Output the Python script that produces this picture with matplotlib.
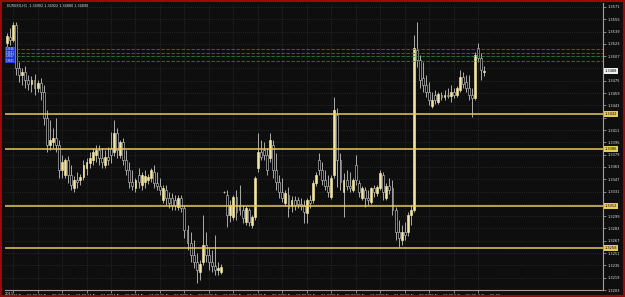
import matplotlib
matplotlib.use("Agg")
import matplotlib.pyplot as plt
from matplotlib.patches import Rectangle
import numpy as np

# ---------------- data (EURUSD H1, 22 Nov 2011 23:00 -> 1 Dec 2011 11:00) ----------------
opens = [1.3524, 1.3532, 1.3528, 1.3547, 1.3492, 1.3482, 1.3486, 1.3476, 1.3471, 1.3476,
         1.3466, 1.3472, 1.3460, 1.3427, 1.3391, 1.3395, 1.3401, 1.3391, 1.3359, 1.3352,
         1.3372, 1.3352, 1.3336, 1.3346, 1.3346, 1.3350, 1.3362, 1.3368, 1.3372, 1.3378,
         1.3385, 1.3375, 1.3365, 1.3376, 1.3388, 1.3382, 1.3407, 1.3378, 1.3395, 1.3372,
         1.3359, 1.3343, 1.3336, 1.3352, 1.3339, 1.3343, 1.3346, 1.3349, 1.3356, 1.3342,
         1.3338, 1.3320, 1.3333, 1.3323, 1.3323, 1.3320, 1.3311, 1.3323, 1.3310, 1.3281,
         1.3264, 1.3248, 1.3239, 1.3226, 1.3239, 1.3261, 1.3248, 1.3239, 1.3234, 1.3229,
         1.3226, 1.3330, 1.3326, 1.3300, 1.3298, 1.3324, 1.3313, 1.3307, 1.3291, 1.3307,
         1.3287, 1.3298, 1.3362, 1.3382, 1.3385, 1.3378, 1.3375, 1.3391, 1.3359, 1.3343,
         1.3330, 1.3316, 1.3326, 1.3312, 1.3320, 1.3320, 1.3315, 1.3312, 1.3303, 1.3320,
         1.3320, 1.3342, 1.3372, 1.3359, 1.3346, 1.3338, 1.3324, 1.3352, 1.3430, 1.3372,
         1.3330, 1.3346, 1.3338, 1.3333, 1.3365, 1.3342, 1.3323, 1.3333, 1.3323, 1.3317,
         1.3336, 1.3329, 1.3336, 1.3352, 1.3323, 1.3338, 1.3336, 1.3307, 1.3278, 1.3268,
         1.3278, 1.3278, 1.3300, 1.3307, 1.3515, 1.3502, 1.3479, 1.3469, 1.3460, 1.3442,
         1.3456, 1.3447, 1.3456, 1.3454, 1.3456, 1.3455, 1.3460, 1.3456, 1.3463, 1.3480,
         1.3473, 1.3466, 1.3456, 1.3453, 1.3518, 1.3505, 1.3486]
highs = [1.3537, 1.3544, 1.3551, 1.3551, 1.3499, 1.3492, 1.3494, 1.3482, 1.3481, 1.3484,
         1.3476, 1.3479, 1.3469, 1.3437, 1.3424, 1.3414, 1.3427, 1.3398, 1.3378, 1.3375,
         1.3377, 1.3365, 1.3351, 1.3356, 1.3354, 1.3372, 1.3375, 1.3382, 1.3388, 1.3391,
         1.3391, 1.3388, 1.3385, 1.3389, 1.3408, 1.3424, 1.3414, 1.3398, 1.3401, 1.3385,
         1.3369, 1.3359, 1.3349, 1.3362, 1.3356, 1.3359, 1.3354, 1.3362, 1.3365, 1.3356,
         1.3349, 1.3339, 1.3339, 1.3330, 1.3329, 1.3326, 1.3326, 1.3326, 1.3313, 1.3287,
         1.3278, 1.3268, 1.3251, 1.3242, 1.3300, 1.3278, 1.3258, 1.3255, 1.3274, 1.3239,
         1.3237, 1.3332, 1.3333, 1.3320, 1.3326, 1.3333, 1.3339, 1.3313, 1.3312, 1.3310,
         1.3300, 1.3351, 1.3407, 1.3398, 1.3395, 1.3388, 1.3407, 1.3398, 1.3381, 1.3352,
         1.3349, 1.3333, 1.3337, 1.3325, 1.3325, 1.3324, 1.3323, 1.3320, 1.3323, 1.3326,
         1.3346, 1.3356, 1.3381, 1.3369, 1.3359, 1.3352, 1.3352, 1.3454, 1.3440, 1.3381,
         1.3355, 1.3359, 1.3356, 1.3349, 1.3378, 1.3346, 1.3338, 1.3337, 1.3333, 1.3337,
         1.3339, 1.3339, 1.3359, 1.3356, 1.3342, 1.3349, 1.3346, 1.3311, 1.3294, 1.3287,
         1.3291, 1.3304, 1.3313, 1.3534, 1.3551, 1.3508, 1.3499, 1.3482, 1.3473, 1.3460,
         1.3463, 1.3460, 1.3460, 1.3463, 1.3466, 1.3469, 1.3466, 1.3468, 1.3489, 1.3486,
         1.3482, 1.3482, 1.3466, 1.3512, 1.3524, 1.3511, 1.3494]
lows = [1.3515, 1.3521, 1.3525, 1.3482, 1.3473, 1.3469, 1.3466, 1.3463, 1.3460, 1.3456,
        1.3460, 1.3450, 1.3417, 1.3382, 1.3385, 1.3388, 1.3382, 1.3349, 1.3349, 1.3349,
        1.3342, 1.3333, 1.3330, 1.3336, 1.3339, 1.3346, 1.3352, 1.3362, 1.3365, 1.3369,
        1.3365, 1.3362, 1.3362, 1.3365, 1.3368, 1.3377, 1.3375, 1.3375, 1.3365, 1.3352,
        1.3336, 1.3333, 1.3330, 1.3336, 1.3333, 1.3336, 1.3341, 1.3343, 1.3336, 1.3333,
        1.3326, 1.3316, 1.3313, 1.3310, 1.3307, 1.3307, 1.3307, 1.3304, 1.3271, 1.3255,
        1.3239, 1.3232, 1.3212, 1.3216, 1.3235, 1.3239, 1.3229, 1.3226, 1.3222, 1.3222,
        1.3224, 1.3329, 1.3285, 1.3291, 1.3294, 1.3294, 1.3300, 1.3290, 1.3287, 1.3286,
        1.3284, 1.3294, 1.3356, 1.3372, 1.3372, 1.3352, 1.3369, 1.3349, 1.3333, 1.3323,
        1.3317, 1.3312, 1.3298, 1.3304, 1.3307, 1.3310, 1.3307, 1.3290, 1.3290, 1.3310,
        1.3316, 1.3338, 1.3352, 1.3339, 1.3333, 1.3324, 1.3321, 1.3349, 1.3337, 1.3333,
        1.3298, 1.3333, 1.3330, 1.3330, 1.3339, 1.3324, 1.3320, 1.3311, 1.3313, 1.3315,
        1.3324, 1.3325, 1.3333, 1.3320, 1.3320, 1.3328, 1.3300, 1.3268, 1.3259, 1.3261,
        1.3268, 1.3273, 1.3287, 1.3304, 1.3493, 1.3466, 1.3460, 1.3454, 1.3443, 1.3440,
        1.3445, 1.3445, 1.3450, 1.3450, 1.3453, 1.3447, 1.3453, 1.3454, 1.3460, 1.3466,
        1.3460, 1.3450, 1.3428, 1.3450, 1.3499, 1.3476, 1.3481]
closes = [1.3533, 1.3528, 1.3547, 1.3492, 1.3482, 1.3486, 1.3476, 1.3471, 1.3476, 1.3466,
          1.3472, 1.3460, 1.3427, 1.3391, 1.3398, 1.3401, 1.3391, 1.3359, 1.3369, 1.3372,
          1.3352, 1.3339, 1.3346, 1.3343, 1.3350, 1.3365, 1.3369, 1.3375, 1.3382, 1.3385,
          1.3375, 1.3369, 1.3376, 1.3372, 1.3378, 1.3407, 1.3385, 1.3395, 1.3372, 1.3359,
          1.3343, 1.3338, 1.3346, 1.3343, 1.3352, 1.3351, 1.3350, 1.3359, 1.3342, 1.3338,
          1.3333, 1.3336, 1.3323, 1.3316, 1.3313, 1.3313, 1.3323, 1.3310, 1.3281, 1.3264,
          1.3248, 1.3239, 1.3229, 1.3237, 1.3261, 1.3248, 1.3239, 1.3234, 1.3229, 1.3232,
          1.3233, 1.3330, 1.3300, 1.3313, 1.3324, 1.3304, 1.3307, 1.3297, 1.3310, 1.3291,
          1.3298, 1.3349, 1.3382, 1.3376, 1.3378, 1.3359, 1.3398, 1.3359, 1.3343, 1.3330,
          1.3323, 1.3329, 1.3310, 1.3320, 1.3313, 1.3315, 1.3312, 1.3304, 1.3320, 1.3316,
          1.3342, 1.3352, 1.3359, 1.3346, 1.3338, 1.3330, 1.3349, 1.3437, 1.3372, 1.3343,
          1.3346, 1.3338, 1.3336, 1.3346, 1.3346, 1.3330, 1.3336, 1.3323, 1.3320, 1.3336,
          1.3330, 1.3337, 1.3355, 1.3330, 1.3338, 1.3333, 1.3307, 1.3278, 1.3271, 1.3278,
          1.3274, 1.3300, 1.3307, 1.3518, 1.3502, 1.3476, 1.3469, 1.3460, 1.3450, 1.3450,
          1.3450, 1.3458, 1.3454, 1.3456, 1.3455, 1.3460, 1.3456, 1.3466, 1.3480, 1.3471,
          1.3466, 1.3456, 1.3453, 1.3508, 1.3505, 1.3489, 1.3488]

time_labels = ["23 Nov 01:00", "23 Nov 09:00", "23 Nov 17:00", "24 Nov 01:00", "24 Nov 09:00",
               "24 Nov 17:00", "25 Nov 01:00", "25 Nov 09:00", "25 Nov 17:00", "28 Nov 01:00",
               "28 Nov 09:00", "28 Nov 17:00", "29 Nov 01:00", "29 Nov 09:00", "29 Nov 17:00",
               "30 Nov 01:00", "30 Nov 09:00", "30 Nov 17:00", "1 Dec 01:00", "1 Dec 09:00"]
time_label_bars = [2 + 8 * k for k in range(len(time_labels))]

level_lines = [1.3432, 1.3386, 1.3312, 1.3258]          # yellow horizontal levels
green_lines = [1.3516, 1.3511, 1.3507, 1.3501]          # green dashed levels
price_ticks = [round(1.3203 + 0.0016 * k, 4) for k in range(24)]
last_price = 1.3488
title = "EURUSD,H1  1.34902 1.34922 1.34880 1.34890"

# ---------------- figure ----------------
BG = "#0e0e0e"
fig = plt.figure(figsize=(6.25, 2.97), dpi=100, facecolor=BG)
ax = fig.add_axes([5 / 625, 7 / 297, 598 / 625, 287 / 297])
ax.set_facecolor(BG)

n = min(len(opens), len(highs), len(lows), len(closes))
o = np.array(opens[:n]); h = np.array(highs[:n]); l = np.array(lows[:n]); c = np.array(closes[:n])
x = np.arange(n)
bull = c >= o

ax.vlines(x, l, h, color="#c4c4c4", lw=0.6, zorder=2)
body_h = np.maximum(np.abs(c - o), 0.00003)
ax.bar(x, body_h, bottom=np.minimum(o, c), width=0.62,
       color=np.where(bull, "#f4e6a0", "#000000"),
       edgecolor=np.where(bull, "#f4e6a0", "#c4c4c4"), linewidth=0.45, zorder=2.5)

for p in level_lines:
    ax.axhline(p, color="#e8cc58", lw=1.1, zorder=3)
for p in green_lines:
    ax.plot([3, 200], [p, p], color="#2f7d3a", lw=0.6, ls=(0, (4, 2)), zorder=3, clip_on=True)

ax.set_xlim(-0.65, 194.8)
ax.set_ylim(1.3203, 1.35761)

# grid and ticks; regular price labels that sit under a highlighted label are left blank
highlighted = level_lines + [last_price]
ax.set_xticks(time_label_bars)
ax.set_xticklabels(time_labels)
ax.set_yticks(price_ticks)
ax.set_yticklabels(["" if min(abs(p - q) for q in highlighted) < 0.0006 else f"{p:.4f}"
                    for p in price_ticks])
ax.yaxis.tick_right()
ax.grid(True, color="#3c3c3c", linestyle=(0, (1, 2)), lw=0.5, zorder=0)
ax.tick_params(axis="both", colors="#b0b0b0", labelcolor="#e0e0e0", length=2, width=0.5,
               labelsize=2.6, pad=1)
for lbl in ax.get_xticklabels():
    lbl.set_horizontalalignment("left")
for sp in ["top", "left"]:
    ax.spines[sp].set_visible(False)
for sp in ["right", "bottom"]:
    ax.spines[sp].set_color("#a0a0a0")
    ax.spines[sp].set_linewidth(0.8)

ytr = ax.get_yaxis_transform()
for p in level_lines:
    ax.text(1.003, p, f"{p:.4f}", transform=ytr, fontsize=2.6, color="#000000", va="center",
            ha="left", clip_on=False, zorder=5,
            bbox=dict(boxstyle="square,pad=0.25", fc="#e8cc58", ec="none"))
ax.text(1.003, last_price, f"{last_price:.4f}", transform=ytr, fontsize=2.6, color="#000000",
        va="center", ha="left", clip_on=False, zorder=5,
        bbox=dict(boxstyle="square,pad=0.25", fc="#f0f0f0", ec="none"))

for p in green_lines:
    ax.text(-0.55, p, f"{p:.4f}", fontsize=1.8, color="#ffffff", va="center", ha="left",
            zorder=5, bbox=dict(boxstyle="square,pad=0.2", fc="#1f3ad0", ec="none"))

ax.text(0.0, -0.006, "2011", transform=ax.transAxes, fontsize=2.6, color="#e0e0e0",
        ha="left", va="top", clip_on=False)
ax.text(0.004, 0.997, title, transform=ax.transAxes, fontsize=2.4, color="#e0e0e0",
        ha="left", va="top", zorder=6)

fig.add_artist(Rectangle((0, 0), 1, 1, transform=fig.transFigure, fill=False,
                         edgecolor="#9a0a0a", lw=3))

fig.savefig("out.png", dpi=100, facecolor=BG)
